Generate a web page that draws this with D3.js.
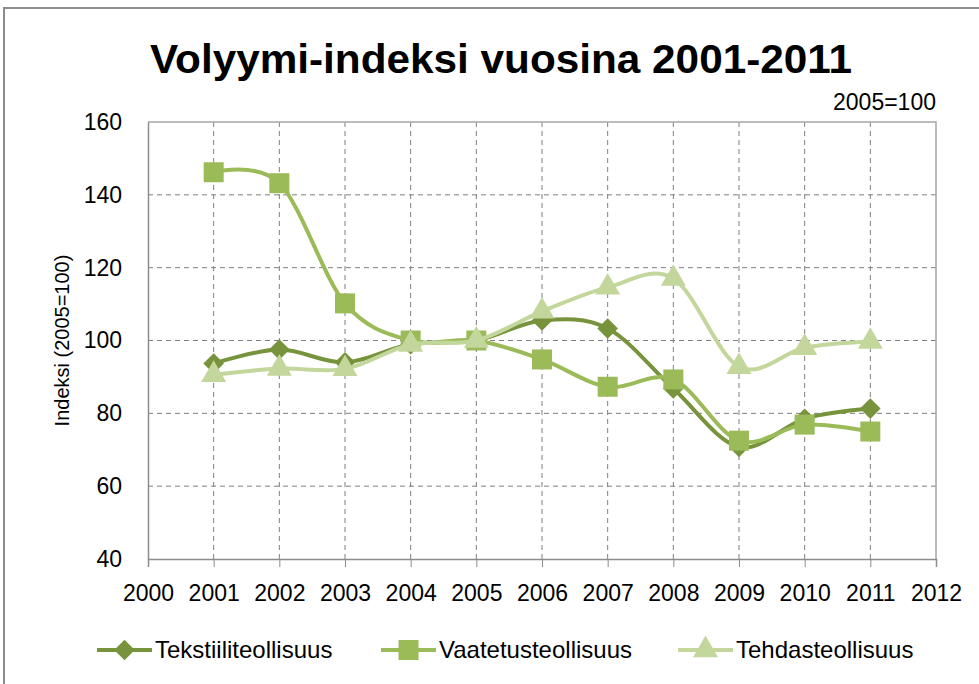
<!DOCTYPE html>
<html>
<head>
<meta charset="utf-8">
<script src="https://cdn.jsdelivr.net/npm/d3@7"></script>
<style>
  body { margin: 0; background: #fff; }
  svg { display: block; font-family: "Liberation Sans", Arial, sans-serif; }
</style>
</head>
<body>
<div id="container"></div>
<script>
const years = [2001, 2002, 2003, 2004, 2005, 2006, 2007, 2008, 2009, 2010, 2011];
const tekstiili = [93.7, 97.5, 94.0, 99.0, 100, 105.5, 103.3, 86.8, 70.8, 78.5, 81.3];
const vaatetus = [146.2, 143.2, 110.2, 100, 100, 94.8, 87.3, 89.3, 72.5, 76.9, 75.0];
const tehdas = [90.6, 92.3, 92.2, 98.9, 100, 108.0, 114.6, 117.0, 92.8, 98.0, 99.7];
const xTicks = [2000, 2001, 2002, 2003, 2004, 2005, 2006, 2007, 2008, 2009, 2010, 2011, 2012];
const yTicks = [40, 60, 80, 100, 120, 140, 160];

const series = [
  { name: "Tekstiiliteollisuus", values: tekstiili, color: "#77933c", shape: "diamond" },
  { name: "Vaatetusteollisuus", values: vaatetus, color: "#9bbb59", shape: "square" },
  { name: "Tehdasteollisuus", values: tehdas, color: "#c3d69b", shape: "triangle" }
];

const W = 979, H = 684;
const plot = { left: 148, right: 936, top: 122, bottom: 559 };

const svg = d3.select("#container")
  .append("svg")
  .attr("width", W)
  .attr("height", H);

// outer chart frame
svg.append("rect")
  .attr("x", 4).attr("y", 8)
  .attr("width", W + 10).attr("height", H + 10)
  .attr("fill", "#fff")
  .attr("stroke", "#8c8c8c")
  .attr("stroke-width", 2);

const x = d3.scaleLinear().domain([2000, 2012]).range([plot.left, plot.right]);
const y = d3.scaleLinear().domain([40, 160]).range([plot.bottom, plot.top]);

// gridlines
svg.append("g")
  .selectAll("line")
  .data(yTicks.filter(d => d > 40 && d < 160))
  .join("line")
  .attr("x1", plot.left).attr("x2", plot.right)
  .attr("y1", d => y(d)).attr("y2", d => y(d))
  .attr("stroke", "#7f7f7f")
  .attr("stroke-width", 1)
  .attr("stroke-dasharray", "5,4");

svg.append("g")
  .selectAll("line")
  .data(xTicks.filter(d => d > 2000 && d < 2012))
  .join("line")
  .attr("x1", d => x(d)).attr("x2", d => x(d))
  .attr("y1", plot.top).attr("y2", plot.bottom)
  .attr("stroke", "#7f7f7f")
  .attr("stroke-width", 1)
  .attr("stroke-dasharray", "5,4");

// plot border (top, right)
svg.append("path")
  .attr("d", `M${plot.left},${plot.top}H${plot.right}V${plot.bottom}`)
  .attr("fill", "none")
  .attr("stroke", "#a6a6a6")
  .attr("stroke-width", 1.5);

// axes
const xAxis = svg.append("g")
  .attr("transform", `translate(0,${plot.bottom})`)
  .call(d3.axisBottom(x).tickValues(xTicks).tickFormat(d3.format("d")).tickSize(8).tickPadding(18));
xAxis.select(".domain").attr("stroke", "#8c8c8c").attr("stroke-width", 1.5);
xAxis.selectAll(".tick line").attr("stroke", "#8c8c8c");
xAxis.selectAll("text").attr("font-size", "23px").attr("fill", "#000")
  .attr("font-family", "Liberation Sans, Arial, sans-serif");

const yAxis = svg.append("g")
  .attr("transform", `translate(${plot.left},0)`)
  .call(d3.axisLeft(y).tickValues(yTicks).tickSize(0).tickPadding(26));
yAxis.select(".domain").attr("stroke", "#8c8c8c").attr("stroke-width", 1.5);
yAxis.selectAll("text").attr("font-size", "23px").attr("fill", "#000")
  .attr("font-family", "Liberation Sans, Arial, sans-serif");

// lines
const line = vals => d3.line()
  .x((d, i) => x(years[i]))
  .y(d => y(d))
  .curve(d3.curveCardinal.tension(0))(vals);

const symbol = shape => {
  if (shape === "diamond") return d3.symbol().type(d3.symbolDiamond2).size(270)();
  if (shape === "square") return d3.symbol().type(d3.symbolSquare).size(400)();
  return d3.symbol().type(d3.symbolTriangle).size(270)();
};

series.forEach(s => {
  svg.append("path")
    .attr("d", line(s.values))
    .attr("fill", "none")
    .attr("stroke", s.color)
    .attr("stroke-width", 4);

  svg.append("g")
    .selectAll("path")
    .data(s.values)
    .join("path")
    .attr("transform", (d, i) => `translate(${x(years[i])},${y(d)})`)
    .attr("d", symbol(s.shape))
    .attr("fill", s.color);
});

// title
svg.append("text")
  .attr("x", 150)
  .attr("y", 73)
  .attr("textLength", 702)
  .attr("lengthAdjust", "spacingAndGlyphs")
  .style("font-family", "Liberation Sans Narrow, Liberation Sans, Arial, sans-serif")
  .style("font-size", "40px")
  .style("font-weight", "bold")
  .text("Volyymi-indeksi vuosina 2001-2011");

svg.append("text")
  .attr("x", 936)
  .attr("y", 110)
  .attr("text-anchor", "end")
  .style("font-size", "23px")
  .text("2005=100");

// y axis title
svg.append("text")
  .attr("transform", `translate(69,${(plot.top + plot.bottom) / 2}) rotate(-90)`)
  .attr("text-anchor", "middle")
  .style("font-size", "20px")
  .text("Indeksi (2005=100)");

// legend
const legendX = [97, 381, 678];
series.forEach((s, i) => {
  const g = svg.append("g").attr("transform", `translate(${legendX[i]},650)`);
  g.append("line")
    .attr("x1", 0).attr("x2", 55)
    .attr("y1", 0).attr("y2", 0)
    .attr("stroke", s.color)
    .attr("stroke-width", 4);
  g.append("path")
    .attr("transform", "translate(27.5,0)")
    .attr("d", symbol(s.shape))
    .attr("fill", s.color);
  g.append("text")
    .attr("x", 58)
    .attr("y", 8)
    .style("font-size", "24px")
    .text(s.name);
});
</script>
</body>
</html>
